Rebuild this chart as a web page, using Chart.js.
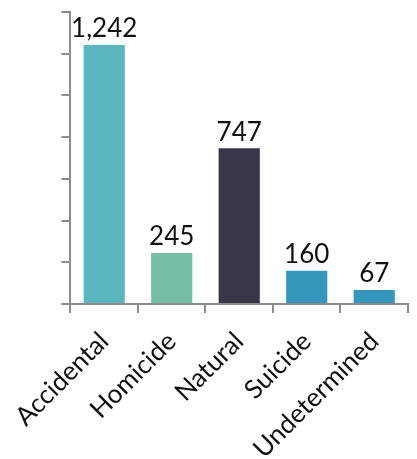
<!DOCTYPE html>
<html>
<head>
<meta charset="utf-8">
<script src="https://cdn.jsdelivr.net/npm/chart.js@4/dist/chart.umd.min.js"></script>
<style>
  html, body { margin: 0; padding: 0; background: #ffffff; }
  #wrap { width: 417px; height: 459px; }
</style>
</head>
<body>
<div id="wrap"><canvas id="c" width="417" height="459"></canvas></div>
<script>
// Deaths by manner of death
const categories = ["Accidental", "Homicide", "Natural", "Suicide", "Undetermined"];
const counts = [1242, 245, 747, 160, 67];
const barColors = ["#5ab6bf", "#76bea6", "#383647", "#3596bc", "#3596bc"];
const yTicks = { min: 0, max: 1400, step: 200 };

const FONT = "Lato, 'Open Sans', sans-serif";
const AXIS_GREY = "#8c8c8c";

// Writes each bar's count above it
const valueLabels = {
  id: "valueLabels",
  afterDatasetsDraw(chart) {
    const ctx = chart.ctx;
    const meta = chart.getDatasetMeta(0);
    ctx.save();
    ctx.font = "26px " + FONT;
    ctx.fillStyle = "#111111";
    ctx.textAlign = "center";
    ctx.textBaseline = "bottom";
    meta.data.forEach((bar, i) => {
      const v = chart.data.datasets[0].data[i];
      ctx.fillText(v.toLocaleString("en-US"), bar.x, bar.y - 3);
    });
    ctx.restore();
  }
};

new Chart(document.getElementById("c"), {
  type: "bar",
  data: {
    labels: categories,
    datasets: [{
      data: counts,
      backgroundColor: barColors,
      borderWidth: 0,
      barPercentage: 0.61,
      categoryPercentage: 1.0
    }]
  },
  options: {
    responsive: false,
    animation: false,
    devicePixelRatio: 1,
    layout: { padding: { left: 61, right: 9, top: 12, bottom: 0 } },
    plugins: {
      legend: { display: false },
      tooltip: { enabled: false }
    },
    scales: {
      x: {
        // the rotated labels may run to the bottom edge
        afterFit(scale) { scale.height = 155; },
        grid: {
          display: true,
          offset: true,
          drawOnChartArea: false,
          drawTicks: true,
          tickLength: 9,
          color: AXIS_GREY,
          lineWidth: 2
        },
        border: { display: true, color: AXIS_GREY, width: 2 },
        ticks: {
          color: "#111111",
          font: { family: FONT, size: 26 },
          minRotation: 45,
          maxRotation: 45,
          padding: 13
        }
      },
      y: {
        min: yTicks.min,
        max: yTicks.max,
        grid: {
          display: true,
          drawOnChartArea: false,
          drawTicks: true,
          tickLength: 9,
          color: AXIS_GREY,
          lineWidth: 2
        },
        border: { display: true, color: AXIS_GREY, width: 2 },
        ticks: {
          display: false,
          stepSize: yTicks.step
        }
      }
    }
  },
  plugins: [valueLabels]
});
</script>
</body>
</html>
